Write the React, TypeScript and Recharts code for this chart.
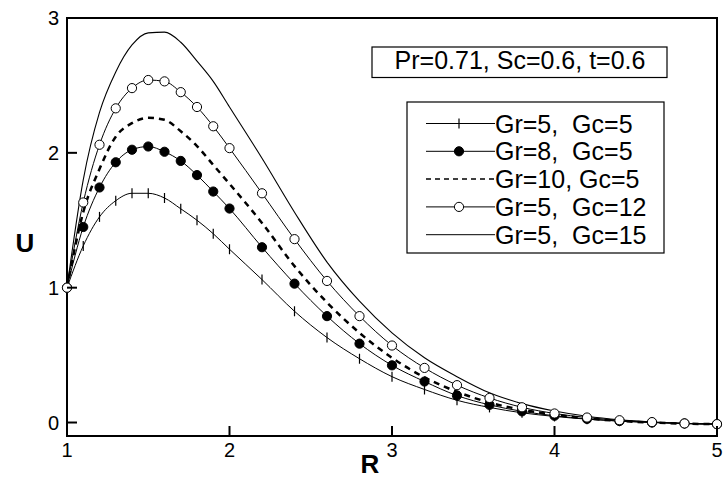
import React from 'react';
import { LineChart, Line, XAxis, YAxis, ReferenceArea } from 'recharts';

const rValues = [1, 1.1, 1.2, 1.3, 1.4, 1.5, 1.6, 1.7, 1.8, 1.9, 2.0, 2.2, 2.4, 2.6, 2.8, 3.0, 3.2, 3.4, 3.6, 3.8, 4.0, 4.2, 4.4, 4.6, 4.8, 5.0];
const uGr5Gc5 = [1.0, 1.31, 1.525, 1.645, 1.7, 1.7, 1.665, 1.585, 1.5, 1.4, 1.285, 1.06, 0.825, 0.63, 0.473, 0.34, 0.245, 0.165, 0.112, 0.072, 0.045, 0.025, 0.01, 0.0, -0.007, -0.01];
const uGr8Gc5 = [1.0, 1.45, 1.743, 1.93, 2.023, 2.047, 2.008, 1.94, 1.835, 1.713, 1.587, 1.3, 1.03, 0.789, 0.585, 0.424, 0.304, 0.2, 0.131, 0.083, 0.05, 0.027, 0.011, 0.0, -0.007, -0.012];
const uGr10Gc5 = [1.0, 1.56, 1.88, 2.12, 2.22, 2.26, 2.245, 2.16, 2.05, 1.91, 1.77, 1.48, 1.16, 0.89, 0.665, 0.48, 0.335, 0.228, 0.148, 0.095, 0.058, 0.03, 0.012, 0.0, -0.008, -0.012];
const uGr5Gc12 = [1.0, 1.632, 2.06, 2.33, 2.48, 2.54, 2.53, 2.45, 2.34, 2.197, 2.035, 1.7, 1.36, 1.05, 0.789, 0.571, 0.405, 0.277, 0.182, 0.113, 0.067, 0.037, 0.017, 0.003, -0.007, -0.012];
const uGr5Gc15 = [1.0, 1.8, 2.3, 2.6, 2.8, 2.89, 2.895, 2.82, 2.68, 2.53, 2.34, 1.96, 1.56, 1.19, 0.9, 0.665, 0.48, 0.34, 0.22, 0.14, 0.085, 0.046, 0.02, 0.004, -0.007, -0.013];

const xTicks = [1, 2, 3, 4, 5];
const yTicks = [0, 1, 2, 3];
const seriesLabels = ['Gr=5,  Gc=5', 'Gr=8,  Gc=5', 'Gr=10, Gc=5', 'Gr=5,  Gc=12', 'Gr=5,  Gc=15'];
const paramLabel = 'Pr=0.71, Sc=0.6, t=0.6';
const xLabel = 'R';
const yLabel = 'U';

const FONT = '"Liberation Sans", Arial, Helvetica, sans-serif';

type Marker = 'tick' | 'filled' | 'open' | 'none';
const series: { key: string; label: string; values: number[]; marker: Marker; dash?: string; width: number }[] = [
  { key: 'g5c15', label: seriesLabels[4], values: uGr5Gc15, marker: 'none', width: 1.1 },
  { key: 'g5c5', label: seriesLabels[0], values: uGr5Gc5, marker: 'tick', width: 1 },
  { key: 'g8c5', label: seriesLabels[1], values: uGr8Gc5, marker: 'filled', width: 1 },
  { key: 'g10c5', label: seriesLabels[2], values: uGr10Gc5, marker: 'none', dash: '6 5', width: 2.5 },
  { key: 'g5c12', label: seriesLabels[3], values: uGr5Gc12, marker: 'open', width: 1 },
];
const legendOrder = ['g5c5', 'g8c5', 'g10c5', 'g5c12', 'g5c15'];

const data = rValues.map((r, i) => {
  const row: Record<string, number> = { r };
  series.forEach((s) => {
    row[s.key] = s.values[i];
  });
  return row;
});

function drawMarker(kind: Marker, cx: number, cy: number, key?: string | number) {
  if (kind === 'tick') {
    return <line key={key} x1={cx} x2={cx} y1={cy - 5} y2={cy + 5} stroke="#000" strokeWidth={1.2} />;
  }
  if (kind === 'filled') {
    return <circle key={key} cx={cx} cy={cy} r={4.6} fill="#000" stroke="#000" strokeWidth={1} />;
  }
  if (kind === 'open') {
    return <circle key={key} cx={cx} cy={cy} r={4.6} fill="#fff" stroke="#000" strokeWidth={1} />;
  }
  return <g key={key} />;
}

const makeDot = (kind: Marker) => (p: any) => {
  if (p.cx == null || p.cy == null) return <g key={p.key ?? p.index} />;
  return drawMarker(kind, p.cx, p.cy, p.key ?? p.index);
};

const XTick = (p: any) => {
  const { x, y, payload } = p;
  return (
    <g>
      <line x1={x} x2={x} y1={y} y2={y - 10} stroke="#000" strokeWidth={2} />
      <text x={x} y={y + 21} textAnchor="middle" fontFamily={FONT} fontSize={20} fill="#000">
        {payload.value}
      </text>
    </g>
  );
};

const YTick = (p: any) => {
  const { x, y, payload } = p;
  return (
    <g>
      <line x1={x} x2={x + 10} y1={y} y2={y} stroke="#000" strokeWidth={2} />
      <text x={x - 8} y={y + 7} textAnchor="end" fontFamily={FONT} fontSize={20} fill="#000">
        {payload.value}
      </text>
    </g>
  );
};

const LegendOverlay = () => {
  const rowY0 = 115.5;
  const rowStep = 27.8;
  return (
    <svg width={726} height={481} style={{ position: 'absolute', left: 0, top: 0, pointerEvents: 'none' }}>
      <rect x={364} y={39} width={295} height={30.5} fill="#fff" stroke="#000" strokeWidth={1.2} />
      <text x={512} y={61} textAnchor="middle" fontFamily={FONT} fontSize={25} fill="#000" style={{ whiteSpace: 'pre' }}>
        {paramLabel}
      </text>
      <rect x={399} y={94} width={257} height={151} fill="#fff" stroke="#000" strokeWidth={1.2} />
      {legendOrder.map((k, i) => {
        const s = series.find((q) => q.key === k)!;
        const cy = rowY0 + i * rowStep;
        return (
          <g key={k}>
            <line
              x1={418}
              x2={487}
              y1={cy}
              y2={cy}
              stroke="#000"
              strokeWidth={s.dash ? 1.5 : 1}
              strokeDasharray={s.dash ? '5 4' : undefined}
            />
            {drawMarker(s.marker, 451, cy)}
            <text x={487} y={cy + 9} fontFamily={FONT} fontSize={25} fill="#000" style={{ whiteSpace: 'pre' }}>
              {s.label}
            </text>
          </g>
        );
      })}
      <text x={17} y={244} textAnchor="middle" fontFamily={FONT} fontSize={26} fontWeight="bold" fill="#000">
        {yLabel}
      </text>
      <text x={362} y={465} textAnchor="middle" fontFamily={FONT} fontSize={26} fontWeight="bold" fill="#000">
        {xLabel}
      </text>
    </svg>
  );
};

export default function App() {
  return (
    <div style={{ position: 'fixed', left: 8, top: 8, width: 726, height: 481, background: '#fff' }}>
      <LineChart width={726} height={481} data={data} margin={{ top: 10, right: 17, bottom: 0, left: 0 }}>
        <XAxis
          dataKey="r"
          type="number"
          domain={[1, 5]}
          ticks={xTicks}
          height={53}
          tickLine={false}
          tickSize={0}
          tickMargin={0}
          axisLine={{ stroke: '#000', strokeWidth: 2 }}
          tick={<XTick />}
          interval={0}
        />
        <YAxis
          type="number"
          domain={[-0.1, 3]}
          ticks={yTicks}
          width={59}
          tickLine={false}
          tickSize={0}
          tickMargin={0}
          axisLine={{ stroke: '#000', strokeWidth: 2 }}
          tick={<YTick />}
          interval={0}
        />
        <ReferenceArea x1={1} x2={5} y1={-0.1} y2={3} fill="none" stroke="#000" strokeWidth={2} fillOpacity={0} />
        {series.map((s) => (
          <Line
            key={s.key}
            dataKey={s.key}
            type="monotone"
            stroke="#000"
            strokeWidth={s.width}
            strokeDasharray={s.dash}
            dot={s.marker === 'none' ? false : makeDot(s.marker)}
            activeDot={false}
            isAnimationActive={false}
          />
        ))}
      </LineChart>
      <LegendOverlay />
    </div>
  );
}
